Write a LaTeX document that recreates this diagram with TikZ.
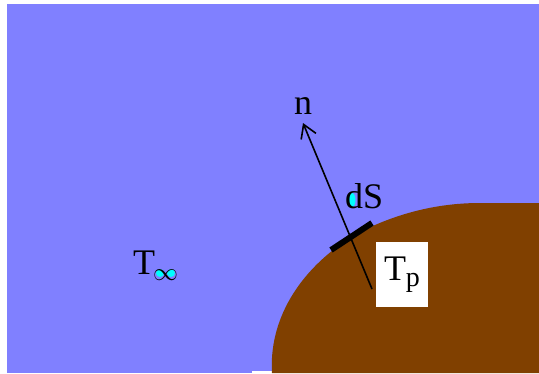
\documentclass[tikz,border=0pt]{standalone}
\usepackage{fontspec}
\setmainfont{Liberation Serif}
\usetikzlibrary{arrows.meta}
\definecolor{sky}{RGB}{128,128,255}
\definecolor{soil}{RGB}{128,64,0}
\definecolor{aqua}{RGB}{0,255,255}
\newcommand{\subbig}[1]{\raisebox{-6pt}{\fontsize{28}{28}\selectfont #1}}
\begin{document}
\begin{tikzpicture}[x=1pt, y=-1pt,
    lbl/.style={font=\fontsize{36}{36}\selectfont, inner sep=0pt},
    arr/.style={-{Straight Barb[length=13pt, width=16pt]}, line width=1.6pt}
]
\useasboundingbox (0,0) rectangle (539,373);
\fill[white] (0,0) rectangle (539,373);
\fill[sky] (7,4) rectangle (539,373);
\fill[white] (252,371) rectangle (272,373);
\fill[soil] (272,373) .. controls (268,305) and (318,250) .. (375,225)
    .. controls (405,212) and (440,203) .. (480,203) -- (539,203) -- (539,373) -- cycle;
\fill[aqua] (352,200) ellipse (3.5 and 7);
\fill[aqua] (160,273) ellipse (4 and 4);
\fill[aqua] (171,273) ellipse (4 and 4);
\node[lbl] (n) at (303,106) {n};
\node[lbl, anchor=base west] (dS) at (345,208) {dS};
\node[lbl, anchor=base west] (Tinf) at (133,274) {T\hspace{-2pt}\subbig{$\infty$}};
\node[lbl, fill=white, minimum width=52pt, minimum height=65pt] (Tp) at (402,274.5) {T\subbig{p}};
\coordinate (foot) at (372,289);
\coordinate (tip) at (303,123);
\coordinate (s1) at (331,250);
\coordinate (s2) at (372,223);
\draw[arr] (foot) -- (tip);
\draw[line width=6pt] (s1) -- (s2);
\end{tikzpicture}
\end{document}
